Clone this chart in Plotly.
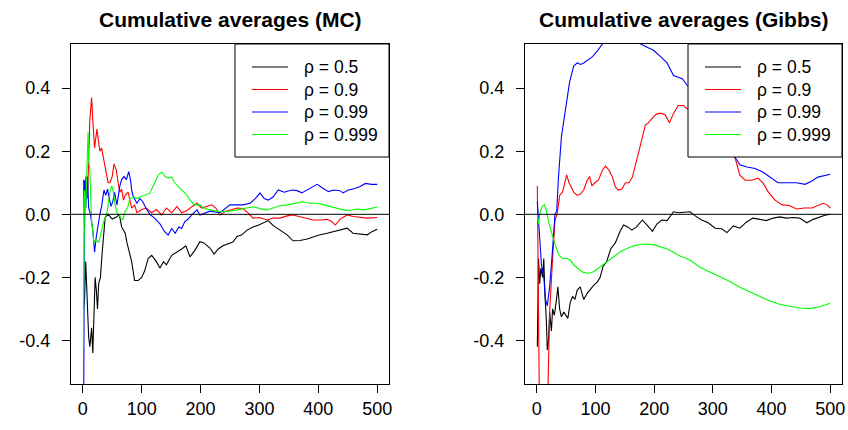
import plotly.graph_objects as go

# ---------------- data ----------------
series_names = ["ρ = 0.5", "ρ = 0.9", "ρ = 0.99", "ρ = 0.999"]
series_colors = ["#000000", "#FF0000", "#0000FF", "#00FF00"]
panel_titles = ["Cumulative averages (MC)", "Cumulative averages (Gibbs)"]
x_tick_vals = [0, 100, 200, 300, 400, 500]
y_tick_vals = [-0.4, -0.2, 0.0, 0.2, 0.4]
y_tick_text = ["-0.4", "-0.2", "0.0", "0.2", "0.4"]

# --- MC panel ---
mc05_x = [1, 3, 5, 7, 10, 12, 15, 17, 19, 21, 23, 25, 27, 30, 33, 36, 38, 43, 50, 58, 62, 66, 72, 75, 79, 83, 88, 94,
          100, 105, 111, 117, 125, 131, 137, 142, 151, 160, 168, 175, 182, 190, 199, 205, 216, 223, 230, 238, 246, 255,
          262, 270, 279, 289, 298, 306, 315, 323, 335, 347, 357, 369, 381, 391, 403, 415, 425, 437, 449, 459, 471, 483,
          491, 500]
mc05_y = [-0.30, -0.27, -0.15, -0.25, -0.39, -0.42, -0.36, -0.44, -0.27, -0.20, -0.24, -0.30, -0.22, -0.20, -0.12,
          -0.06, -0.01, 0.0, -0.015, -0.008, 0.0, -0.04, -0.06, -0.09, -0.12, -0.15, -0.21, -0.21, -0.20, -0.18, -0.14,
          -0.13, -0.15, -0.17, -0.15, -0.16, -0.13, -0.12, -0.11, -0.10, -0.135, -0.115, -0.087, -0.09, -0.107, -0.126,
          -0.11, -0.10, -0.095, -0.088, -0.07, -0.065, -0.05, -0.04, -0.035, -0.028, -0.02, -0.035, -0.05, -0.065,
          -0.084, -0.083, -0.078, -0.071, -0.065, -0.06, -0.055, -0.05, -0.044, -0.06, -0.062, -0.065, -0.055, -0.047]

mc09_x = [1, 3, 5, 8, 12, 15, 17, 20, 24, 26, 29, 32, 34, 37, 40, 43, 46, 50, 53, 57, 60, 63, 66, 69, 72, 77, 80, 83,
          88, 92, 100, 108, 117, 125, 134, 142, 151, 160, 168, 177, 186, 194, 202, 210, 219, 226, 233, 243, 253, 262,
          272, 281, 289, 300, 313, 323, 335, 347, 357, 369, 381, 391, 403, 415, 422, 429, 437, 449, 459, 471, 483, 500]
mc09_y = [0.11, -0.05, 0.12, 0.05, 0.30, 0.37, 0.30, 0.21, 0.27, 0.24, 0.20, 0.21, 0.19, 0.165, 0.14, 0.10, 0.10, 0.12,
          0.16, 0.14, 0.10, 0.07, 0.08, 0.045, 0.06, 0.07, 0.045, 0.02, 0.03, 0.005, 0.015, 0.02, 0.005, 0.015, -0.002,
          0.02, 0.005, 0.025, 0.005, 0.012, 0.025, 0.035, 0.02, 0.025, 0.03, 0.02, -0.002, 0.01, 0.014, 0.02, 0.018,
          0.004, -0.012, -0.01, -0.018, -0.012, -0.012, -0.005, -0.002, -0.007, -0.012, -0.018, -0.018, -0.016,
          -0.022, -0.034, -0.015, -0.002, -0.007, -0.01, -0.012, -0.01]

mc099_x = [1, 3, 5, 8, 10, 13, 17, 20, 23, 26, 29, 32, 36, 39, 42, 45, 48, 51, 54, 58, 63, 66, 70, 74, 78, 81, 83, 86,
           92, 97, 102, 107, 114, 122, 131, 139, 145, 151, 157, 163, 168, 173, 179, 185, 194, 199, 210, 216, 233, 250,
           262, 272, 284, 293, 301, 308, 315, 323, 332, 342, 355, 364, 372, 381, 390, 398, 406, 417, 426, 437, 442,
           451, 462, 471, 480, 490, 500]
mc099_y = [-0.90, 0.108, 0.02, 0.12, 0.02, 0.0, -0.05, -0.12, -0.07, -0.03, 0.0, 0.025, 0.077, 0.06, 0.08, 0.05, 0.025,
           0.04, 0.07, 0.03, 0.09, 0.11, 0.12, 0.11, 0.135, 0.11, 0.077, 0.055, 0.035, 0.05, 0.04, 0.02, 0.0, -0.012,
           -0.03, -0.055, -0.066, -0.045, -0.06, -0.04, -0.045, -0.024, -0.015, -0.002, 0.014, -0.002, 0.005, 0.01,
           0.005, 0.03, 0.03, 0.03, 0.035, 0.05, 0.068, 0.05, 0.045, 0.055, 0.077, 0.07, 0.077, 0.075, 0.068, 0.077,
           0.085, 0.095, 0.085, 0.072, 0.077, 0.075, 0.068, 0.077, 0.082, 0.088, 0.098, 0.095, 0.095]

mc0999_x = [1, 3, 5, 7, 9, 10, 12, 14, 15, 19, 23, 27, 31, 36, 41, 46, 49, 52, 55, 58, 61, 64, 68, 72, 76, 80, 87, 92,
            97, 105, 114, 122, 128, 134, 140, 146, 151, 156, 162, 168, 175, 182, 190, 199, 205, 216, 233, 250, 262,
            279, 289, 301, 313, 323, 335, 347, 357, 374, 386, 398, 410, 422, 432, 442, 454, 466, 478, 490, 500]
mc0999_y = [-0.42, 0.077, 0.02, 0.12, 0.26, 0.17, 0.14, 0.03, -0.02, -0.09, -0.08, -0.09, -0.06, -0.02, 0.004, 0.07,
            0.09, 0.07, 0.03, 0.005, 0.0, -0.01, -0.018, 0.01, 0.02, 0.05, 0.055, 0.05, 0.055, 0.06, 0.067, 0.10, 0.124,
            0.134, 0.12, 0.115, 0.118, 0.10, 0.09, 0.077, 0.065, 0.045, 0.03, 0.03, 0.02, 0.014, 0.008, 0.01, 0.014,
            0.02, 0.024, 0.018, 0.014, 0.02, 0.027, 0.03, 0.033, 0.04, 0.035, 0.035, 0.03, 0.024, 0.018, 0.014, 0.012,
            0.017, 0.014, 0.02, 0.023]

# --- Gibbs panel ---
gb05_x = [1, 3, 5, 7, 10, 12, 14, 16, 18, 20, 22, 25, 27, 30, 33, 36, 39, 42, 46, 50, 53, 57, 61, 65, 69, 74, 80, 86,
          92, 97, 103, 108, 113, 119, 126, 134, 142, 148, 155, 162, 170, 180, 188, 197, 205, 213, 222, 233, 242, 250,
          261, 270, 281, 292, 304, 315, 324, 335, 346, 357, 368, 380, 391, 403, 414, 425, 437, 448, 460, 471, 482,
          491, 500]
gb05_y = [-0.42, -0.14, -0.22, -0.17, -0.20, -0.14, -0.26, -0.32, -0.43, -0.40, -0.31, -0.37, -0.30, -0.32, -0.28,
          -0.23, -0.30, -0.325, -0.31, -0.32, -0.33, -0.28, -0.26, -0.27, -0.24, -0.23, -0.27, -0.25, -0.235, -0.225,
          -0.215, -0.20, -0.165, -0.15, -0.11, -0.09, -0.054, -0.034, -0.04, -0.05, -0.04, -0.018, -0.034, -0.054,
          -0.03, -0.018, -0.02, 0.008, 0.005, 0.006, 0.008, -0.005, -0.018, -0.027, -0.044, -0.046, -0.058, -0.037,
          -0.044, -0.025, -0.012, -0.016, -0.02, -0.012, -0.008, -0.012, -0.01, -0.012, -0.027, -0.016, -0.008,
          -0.003, 0.0]

gb09_x = [1, 3, 5, 10, 15, 19, 22, 27, 31, 35, 39, 44, 47, 51, 55, 59, 63, 66, 69, 75, 80, 86, 90, 94, 99, 105, 112,
          117, 123, 129, 134, 139, 145, 151, 157, 163, 168, 173, 180, 185, 190, 197, 202, 207, 213, 219, 226, 233, 241,
          250, 256, 270, 290, 310, 326, 338, 346, 355, 366, 377, 386, 394, 406, 418, 430, 443, 456, 469, 480, 488, 495,
          500]
gb09_y = [0.09, -0.47, -0.70, -0.80, -0.75, -0.56, -0.31, -0.14, -0.02, 0.004, 0.06, 0.07, 0.09, 0.125, 0.10, 0.087,
          0.07, 0.065, 0.06, 0.065, 0.077, 0.108, 0.12, 0.09, 0.10, 0.108, 0.14, 0.153, 0.14, 0.118, 0.087, 0.077, 0.08,
          0.10, 0.10, 0.118, 0.157, 0.20, 0.245, 0.283, 0.29, 0.305, 0.315, 0.32, 0.32, 0.315, 0.29, 0.32, 0.345,
          0.345, 0.335, 0.33, 0.30, 0.26, 0.22, 0.178, 0.124, 0.108, 0.108, 0.115, 0.098, 0.072, 0.045, 0.03, 0.028,
          0.017, 0.02, 0.02, 0.03, 0.035, 0.03, 0.02]

gb099_x = [1, 4, 8, 12, 15, 18, 22, 27, 31, 34, 37, 42, 46, 52, 56, 63, 69, 75, 80, 88, 95, 104, 112, 130, 150, 165,
           177, 188, 199, 211, 222, 233, 241, 248, 256, 261, 280, 300, 320, 338, 346, 358, 372, 385, 397, 411, 425,
           443, 457, 468, 479, 490, 500]
gb099_y = [0.04, -0.06, -0.16, -0.20, -0.27, -0.29, -0.23, -0.11, 0.0, 0.01, 0.117, 0.245, 0.30, 0.37, 0.42, 0.47,
           0.48, 0.475, 0.48, 0.49, 0.50, 0.52, 0.54, 0.565, 0.575, 0.565, 0.54, 0.53, 0.52, 0.50, 0.48, 0.44, 0.435,
           0.43, 0.41, 0.40, 0.36, 0.30, 0.23, 0.18, 0.157, 0.15, 0.145, 0.134, 0.118, 0.10, 0.10, 0.10, 0.095, 0.105,
           0.118, 0.122, 0.127]

gb0999_x = [1, 3, 6, 10, 13, 16, 21, 27, 32, 38, 44, 52, 57, 63, 72, 80, 89, 97, 109, 120, 131, 143, 154, 165, 177,
            188, 200, 211, 222, 233, 244, 261, 278, 295, 312, 329, 346, 363, 380, 397, 414, 431, 448, 465, 482, 500]
gb0999_y = [-0.002, -0.03, 0.01, 0.026, 0.03, 0.015, -0.03, -0.07, -0.10, -0.13, -0.14, -0.14, -0.145, -0.16, -0.175,
            -0.185, -0.187, -0.182, -0.166, -0.15, -0.134, -0.118, -0.108, -0.10, -0.095, -0.094, -0.097, -0.103, -0.11,
            -0.12, -0.132, -0.145, -0.168, -0.183, -0.197, -0.213, -0.231, -0.245, -0.26, -0.275, -0.285, -0.292,
            -0.297, -0.299, -0.293, -0.282]

panels = [
    [(mc05_x, mc05_y), (mc09_x, mc09_y), (mc099_x, mc099_y), (mc0999_x, mc0999_y)],
    [(gb05_x, gb05_y), (gb09_x, gb09_y), (gb099_x, gb099_y), (gb0999_x, gb0999_y)],
]

# ---------------- figure ----------------
W, H = 848, 430
FONT = "Liberation Sans, Arial, Helvetica, sans-serif"
fig = go.Figure()

# plot regions in pixels (left, right, top, bottom)
regions = [(71, 389, 44, 384), (525, 842, 44, 384)]
x_range = [-20, 520]
y_range = [-0.538, 0.540]

for p, (series, reg) in enumerate(zip(panels, regions)):
    xa = "x" if p == 0 else "x2"
    ya = "y" if p == 0 else "y2"
    for (sx, sy), name, col in zip(series, series_names, series_colors):
        fig.add_trace(go.Scatter(x=sx, y=sy, mode="lines", name=name, xaxis=xa, yaxis=ya,
                                 line=dict(color=col, width=1.1), showlegend=False,
                                 hoverinfo="skip"))
    l, r, t, b = reg
    axis_common = dict(showline=True, mirror=True, linecolor="black", linewidth=1,
                       ticks="outside", ticklen=8, tickcolor="black", tickwidth=1,
                       showgrid=False, zeroline=False, automargin=False,
                       tickfont=dict(family=FONT, size=18, color="black"))
    fig.layout["xaxis" + ("" if p == 0 else "2")] = dict(
        domain=[l / W, r / W], range=x_range, tickvals=x_tick_vals,
        anchor=ya, ticklabelstandoff=0, **axis_common)
    fig.layout["yaxis" + ("" if p == 0 else "2")] = dict(
        domain=[1 - b / H, 1 - t / H], range=y_range, tickvals=y_tick_vals,
        ticktext=y_tick_text, anchor=xa, ticklabelstandoff=8, **axis_common)

    xd = xa + " domain"
    yd = ya + " domain"
    # horizontal reference line at 0
    fig.add_shape(type="line", xref=xd, yref=ya, x0=0, x1=1, y0=0, y1=0,
                  line=dict(color="black", width=1))
    # title
    fig.add_annotation(text="<b>" + panel_titles[p] + "</b>", xref=xd, yref="paper",
                       x=0.5, y=1 - 19 / H, showarrow=False, xanchor="center", yanchor="middle",
                       font=dict(family=FONT, size=21, color="black"))
    # legend box (top right)
    pw, ph = r - l, b - t
    bx0 = (r - 154 - l) / pw
    fig.add_shape(type="rect", xref=xd, yref=yd, x0=bx0, x1=1, y0=(b - 157) / ph, y1=1,
                  line=dict(color="black", width=1), fillcolor="white", layer="above")
    for i, (name, col) in enumerate(zip(series_names, series_colors)):
        ry = (b - (67 + 22.5 * i)) / ph
        fig.add_shape(type="line", xref=xd, yref=yd,
                      x0=(r - 137 - l) / pw, x1=(r - 101 - l) / pw, y0=ry, y1=ry,
                      line=dict(color=col, width=1.1), layer="above")
        fig.add_annotation(text=name, xref=xd, yref=yd, x=(r - 87 - l) / pw, y=ry,
                           showarrow=False, xanchor="left", yanchor="middle",
                           font=dict(family=FONT, size=17.5, color="black"))

fig.update_layout(width=W, height=H, margin=dict(l=0, r=0, t=0, b=0),
                  paper_bgcolor="white", plot_bgcolor="white", showlegend=False)

# remove the page's default body margin so the figure sits at the window origin
fig.write_html("out.html", config={"displayModeBar": False, "staticPlot": True},
               post_script="document.body.style.margin='0';document.body.style.overflow='hidden';")
